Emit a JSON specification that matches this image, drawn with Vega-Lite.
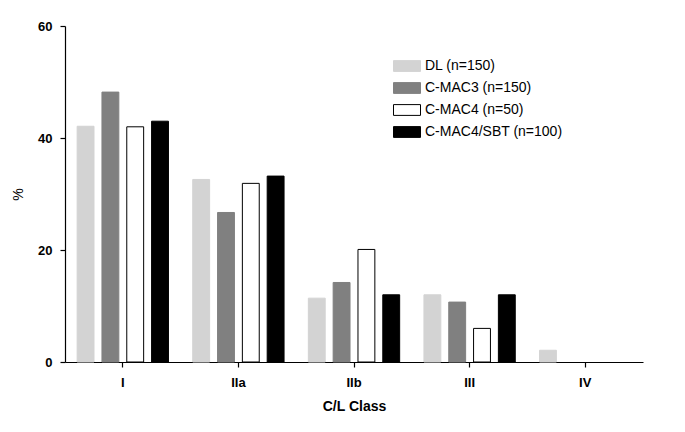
{
  "$schema": "https://vega.github.io/schema/vega-lite/v6.json",
  "width": 578,
  "height": 336,
  "autosize": {"type": "none"},
  "padding": {"left": 65, "top": 26, "right": 42, "bottom": 70},
  "background": "white",
  "config": {
    "view": {"stroke": null},
    "font": "Liberation Sans",
    "axis": {"grid": false, "domainColor": "black", "tickColor": "black", "labelColor": "black", "titleColor": "black", "domainWidth": 1.2, "tickWidth": 1.2}
  },
  "data": {
    "values": [
      {"cls": "I", "group": "DL (n=150)", "pct": 42.1},
      {"cls": "I", "group": "C-MAC3 (n=150)", "pct": 48.2},
      {"cls": "I", "group": "C-MAC4 (n=50)", "pct": 42.0},
      {"cls": "I", "group": "C-MAC4/SBT (n=100)", "pct": 43.0},
      {"cls": "IIa", "group": "DL (n=150)", "pct": 32.6},
      {"cls": "IIa", "group": "C-MAC3 (n=150)", "pct": 26.7},
      {"cls": "IIa", "group": "C-MAC4 (n=50)", "pct": 31.9},
      {"cls": "IIa", "group": "C-MAC4/SBT (n=100)", "pct": 33.2},
      {"cls": "IIb", "group": "DL (n=150)", "pct": 11.4},
      {"cls": "IIb", "group": "C-MAC3 (n=150)", "pct": 14.2},
      {"cls": "IIb", "group": "C-MAC4 (n=50)", "pct": 20.1},
      {"cls": "IIb", "group": "C-MAC4/SBT (n=100)", "pct": 12.0},
      {"cls": "III", "group": "DL (n=150)", "pct": 12.0},
      {"cls": "III", "group": "C-MAC3 (n=150)", "pct": 10.7},
      {"cls": "III", "group": "C-MAC4 (n=50)", "pct": 6.0},
      {"cls": "III", "group": "C-MAC4/SBT (n=100)", "pct": 12.0},
      {"cls": "IV", "group": "DL (n=150)", "pct": 2.1},
      {"cls": "IV", "group": "C-MAC3 (n=150)", "pct": 0},
      {"cls": "IV", "group": "C-MAC4 (n=50)", "pct": 0},
      {"cls": "IV", "group": "C-MAC4/SBT (n=100)", "pct": 0}
    ]
  },
  "transform": [{"filter": "datum.pct > 0"}],
  "mark": {"type": "bar", "strokeWidth": 1},
  "encoding": {
    "x": {
      "field": "cls", "type": "nominal", "sort": ["I", "IIa", "IIb", "III", "IV"],
      "scale": {"domain": ["I", "IIa", "IIb", "III", "IV"], "paddingInner": 0.21, "paddingOuter": 0.105},
      "axis": {"title": "C/L Class", "labelAngle": 0, "labelFontSize": 13, "labelFontWeight": "bold", "labelPadding": 9, "tickSize": 5, "titleFontSize": 14, "titleFontWeight": "bold", "titlePadding": 10}
    },
    "xOffset": {
      "field": "group", "type": "nominal",
      "scale": {"domain": ["DL (n=150)", "C-MAC3 (n=150)", "C-MAC4 (n=50)", "C-MAC4/SBT (n=100)"], "paddingInner": 0.32, "paddingOuter": 0}
    },
    "y": {
      "field": "pct", "type": "quantitative",
      "scale": {"domain": [0, 60], "nice": false},
      "axis": {"title": "%", "values": [0, 20, 40, 60], "labelFontSize": 13, "labelFontWeight": "bold", "tickSize": 5, "labelPadding": 8, "titleFontSize": 14, "titleFontWeight": "normal", "titlePadding": 12}
    },
    "fill": {
      "field": "group", "type": "nominal",
      "scale": {"domain": ["DL (n=150)", "C-MAC3 (n=150)", "C-MAC4 (n=50)", "C-MAC4/SBT (n=100)"], "range": ["#d3d3d3", "#808080", "#ffffff", "#000000"]},
      "legend": {
        "title": null, "orient": "none", "legendX": 328, "legendY": 26,
        "symbolType": "M-1,-0.4L1,-0.4L1,0.4L-1,0.4Z", "symbolSize": 729, "symbolStrokeWidth": 1,
        "labelFontSize": 14, "labelColor": "black", "labelOffset": 4, "rowPadding": 0
      }
    },
    "stroke": {
      "field": "group", "type": "nominal",
      "scale": {"domain": ["DL (n=150)", "C-MAC3 (n=150)", "C-MAC4 (n=50)", "C-MAC4/SBT (n=100)"], "range": ["#d3d3d3", "#808080", "#000000", "#000000"]},
      "legend": null
    }
  }
}
